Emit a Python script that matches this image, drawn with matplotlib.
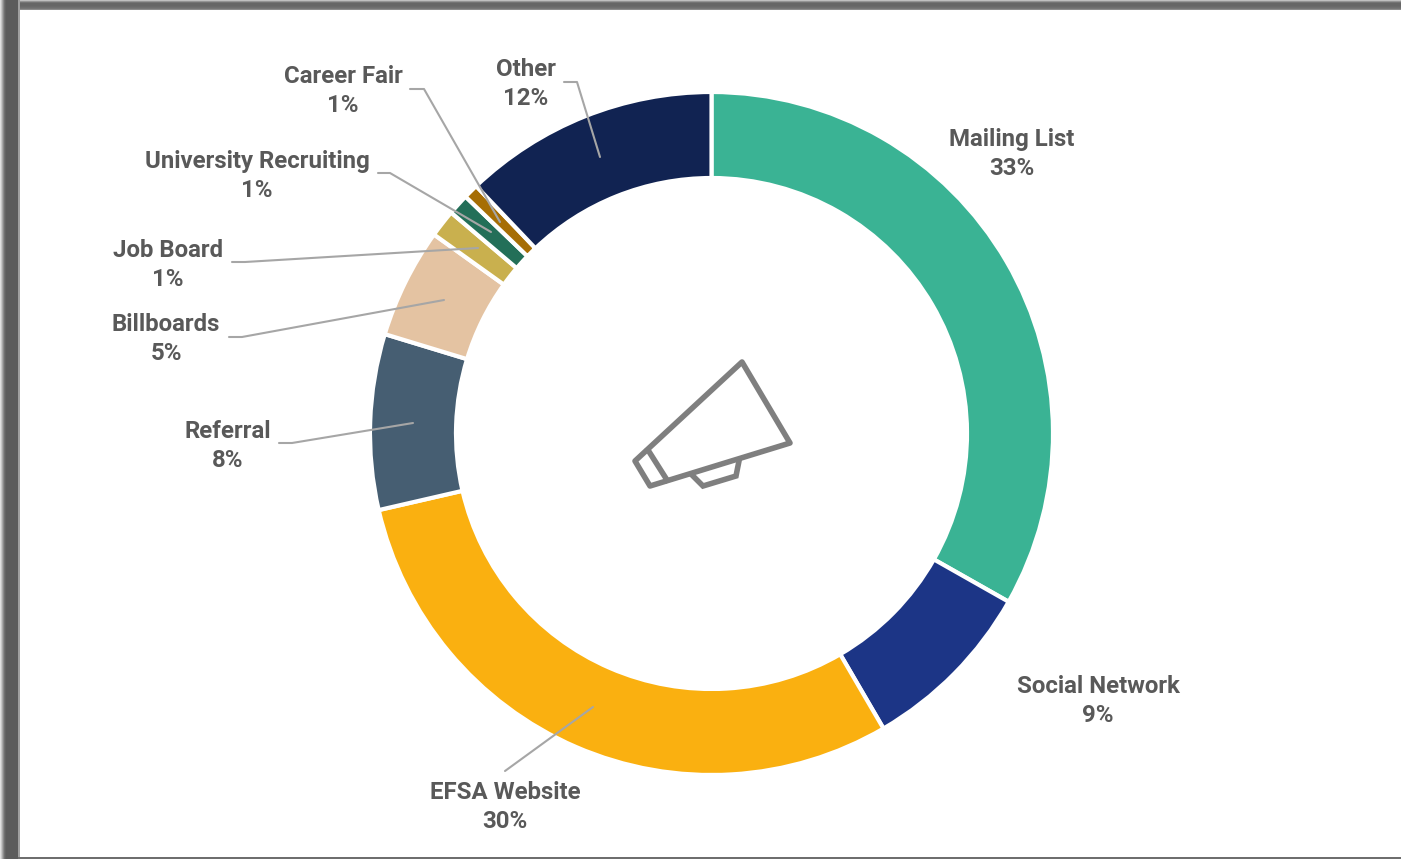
import numpy as np
import matplotlib
matplotlib.use("Agg")
import matplotlib.pyplot as plt
from matplotlib.patches import Polygon, Rectangle

# Values (the labels are rounded)
categories = ["Mailing List", "Social Network", "EFSA Website", "Referral", "Billboards",
              "Job Board", "University Recruiting", "Career Fair", "Other"]
shares = [33.2, 8.4, 29.8, 8.3, 5.2, 1.3, 1.0, 0.7, 12.1]
percent_labels = ["33%", "9%", "30%", "8%", "5%", "1%", "1%", "1%", "12%"]
colors = ["#3AB394", "#1C3586", "#FAB010", "#465E72", "#E4C3A2",
          "#C9B04E", "#236F58", "#A66E05", "#112352"]

# Label centres in picture pixels
label_x = [1012, 1098, 505, 228, 166, 168, 257, 343, 526]
label_y = [154, 701, 807, 446, 339, 265, 176, 91, 84]

# Leader lines in picture pixels, None where the label has no leader
leaders = [
    None,
    None,
    [(505, 771), (593, 707)],
    [(279, 443), (292, 443), (413, 423)],
    [(229, 337), (242, 337), (444, 300)],
    [(232, 262), (245, 262), (478, 248)],
    [(378, 173), (390, 173), (491, 232)],
    [(410, 89), (424, 89), (500, 222)],
    [(564, 82), (577, 82), (600, 157)],
]

plt.rcParams['font.family'] = ['Roboto', 'DejaVu Sans']

fig = plt.figure(figsize=(14.01, 8.59), dpi=100)
ax = fig.add_axes([0, 0, 1, 1])

# y axis runs downwards, so counterclock here reads clockwise on screen
ax.pie(shares, colors=colors, startangle=270, counterclock=True,
       center=(711.5, 433.5), radius=341.5,
       wedgeprops=dict(width=86, edgecolor="white", linewidth=3))
ax.set_xlim(0, 1401)
ax.set_ylim(859, 0)
ax.set_aspect("equal")
ax.axis("off")

for path in leaders:
    if path is None:
        continue
    xs, ys = zip(*path)
    ax.plot(xs, ys, color="#A6A6A6", lw=1.5, solid_capstyle="round", zorder=5)

for name, pct, x, y in zip(categories, percent_labels, label_x, label_y):
    ax.text(x, y, f"{name}\n{pct}", ha="center", va="center", multialignment="center",
            fontsize=17.3, fontweight="bold", color="#595959", linespacing=1.28, zorder=6)

# Megaphone icon in the middle of the ring
icon_color = "#7F7F7F"
body = [(742, 362), (790, 443), (650, 486), (635, 461)]
ax.add_patch(Polygon(body, closed=True, fill=False, edgecolor=icon_color, lw=4,
                     joinstyle="round", zorder=4))
ax.plot([648, 667], [450, 480], color=icon_color, lw=4, zorder=4)
ax.plot([692, 703, 736, 739], [475, 486, 476, 461], color=icon_color, lw=4,
        solid_joinstyle="miter", zorder=4)

# Shadowed frame on the left, top and bottom edges
side = np.array([0.88, 0.78, 0.66, 0.54, 0.44, 0.39] + [0.36] * 12)
for i, g in enumerate(side):
    ax.add_patch(Rectangle((i, 0), 1, 859, facecolor=str(g), edgecolor="none", zorder=8))
top = np.array([0.75, 0.58, 0.45, 0.40, 0.40, 0.40, 0.41, 0.43, 0.46, 0.55])
for i, g in enumerate(top):
    ax.add_patch(Rectangle((18 if i > 4 else 0, i), 1401, 1, facecolor=str(g),
                           edgecolor="none", zorder=7))
ax.add_patch(Rectangle((18, 0), 1.5, 859, facecolor="#A0A0A0", edgecolor="none", zorder=7))
ax.add_patch(Rectangle((18, 857), 1383, 2, facecolor="#6E6E6E", edgecolor="none", zorder=7))

fig.savefig("out.png", dpi=100)
